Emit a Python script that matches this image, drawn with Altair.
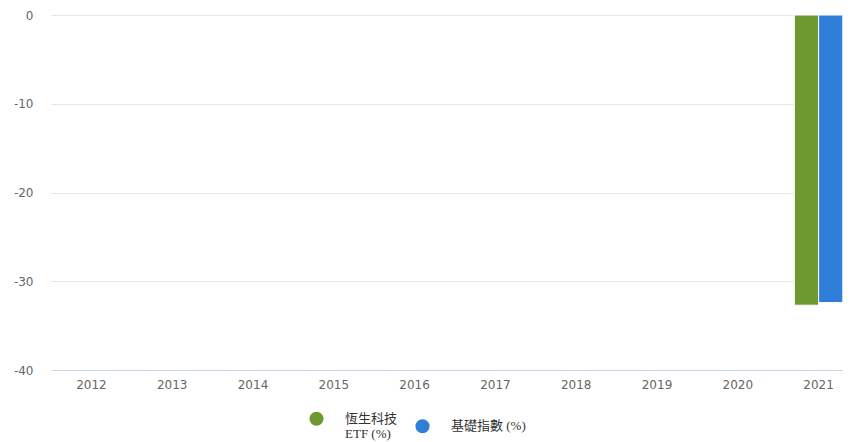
import altair as alt
import pandas as pd

years = ["2012", "2013", "2014", "2015", "2016", "2017", "2018", "2019", "2020", "2021"]
series_names = ["恆生科技\nETF (%)", "基礎指數 (%)"]
bar_years = ["2021", "2021"]
bar_values = [-32.7, -32.4]
colors = ["#6c9a31", "#2f7ed8"]
y_ticks = [0, -10, -20, -30, -40]

df = pd.DataFrame({"year": bar_years, "series": series_names, "value": bar_values})

chart = alt.Chart(df).mark_bar(stroke="white", strokeWidth=1).encode(
    x=alt.X(
        "year:N",
        scale=alt.Scale(domain=years, range=[0, 808], paddingInner=0.4, paddingOuter=0.2),
        axis=alt.Axis(
            title=None, labelAngle=0, ticks=False, domainColor="#ccd6eb", domainWidth=1,
            labelColor="#666666", labelFont="DejaVu Sans", labelFontSize=12, labelPadding=9, grid=False,
        ),
    ),
    xOffset=alt.XOffset("series:N", sort=series_names, scale=alt.Scale(domain=series_names)),
    y=alt.Y(
        "value:Q",
        scale=alt.Scale(domain=[-40, 0], nice=False),
        axis=alt.Axis(
            title=None, values=y_ticks, domain=False, ticks=False, gridColor="#e6e6e6",
            labelColor="#666666", labelFont="DejaVu Sans", labelFontSize=12, labelPadding=18,
            labelExpr="datum.value + ''",
        ),
    ),
    color=alt.Color(
        "series:N",
        sort=series_names,
        scale=alt.Scale(domain=series_names, range=colors),
        legend=alt.Legend(
            title=None, orient="none", direction="horizontal", legendX=258, legendY=396,
            symbolType="circle", symbolSize=200, symbolStrokeWidth=0, symbolOpacity=1,
            labelExpr="split(datum.label, '\\n')", labelFont="Liberation Serif, Noto Sans CJK TC",
            labelFontSize=13, labelColor="#333333", labelOffset=21, columnPadding=17,
        ),
    ),
).properties(
    width=792, height=355,
    autosize=alt.AutoSizeParams(type="none"),
    padding={"left": 43, "top": 7, "right": 0, "bottom": 72},
).configure_view(stroke=None)

chart.save("out.html", embed_options={"renderer": "svg", "actions": False})
